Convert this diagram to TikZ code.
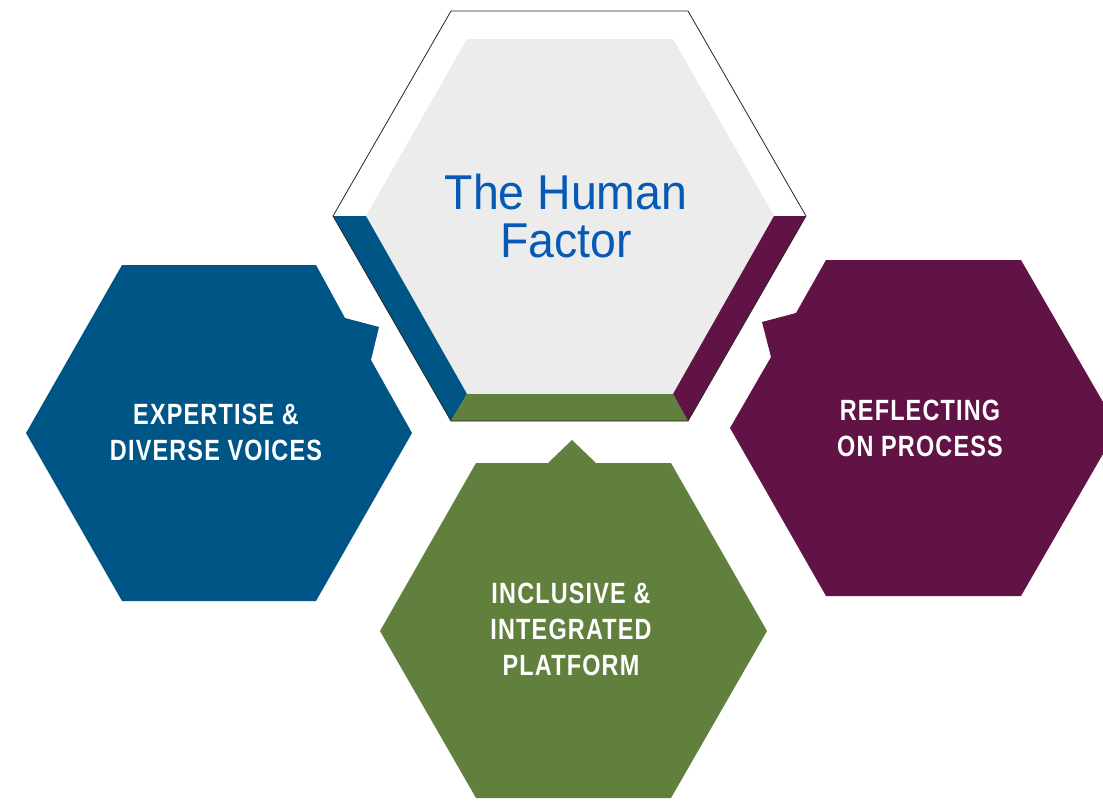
\documentclass[tikz,border=0pt]{standalone}
\usepackage{fontspec}
\setmainfont{Liberation Sans}
\newfontfamily\capfont[LetterSpace=5]{Liberation Sans}
\usepackage{graphicx}
\definecolor{hexblue}{RGB}{0,85,135}
\definecolor{hexpurple}{RGB}{98,19,69}
\definecolor{hexgreen}{RGB}{98,128,61}
\definecolor{hexgray}{RGB}{236,236,236}
\definecolor{titleblue}{RGB}{6,90,182}
\newcommand{\sqz}[1]{\scalebox{0.80}[1]{#1}}
\newcommand{\sqt}[1]{\scalebox{0.95}[1]{#1}}
\begin{document}
\begin{tikzpicture}[x=1pt,y=-1pt,
  hexfill/.style={fill=#1,draw=none},
  caplabel/.style={text=white,font=\capfont\bfseries\fontsize{29.3}{36}\selectfont,align=center,inner sep=0pt},
  titlelabel/.style={text=titleblue,font=\fontsize{48.9}{48}\selectfont,align=center,inner sep=0pt}]
\useasboundingbox (0,0) rectangle (1103,801);
\clip (0,0) rectangle (1103,801);
\fill[white] (0,0) rectangle (1103,801);

% centres
\coordinate (ctop) at (570,216);
\coordinate (cblue) at (219,433);
\coordinate (cgreen) at (574,631);
\coordinate (cpurple) at (924,428);

% top hexagon
\fill[white] (451,11) -- (688,11) -- (806,216) -- (688,421) -- (451,421) -- (333,216) -- cycle;
\fill[hexgray] (467,39) -- (673,39) -- (774,216) -- (673,394) -- (467,394) -- (366,216) -- cycle;
\fill[hexblue] (333,216) -- (366,216) -- (467,394) -- (451,421) -- cycle;
\fill[hexgreen] (467,394) -- (673,394) -- (688,421) -- (451,421) -- cycle;
\fill[hexpurple] (806,216) -- (774,216) -- (673,394) -- (688,421) -- cycle;
\draw[black!85,line width=0.8pt,line join=miter] (451,11) -- (688,11) -- (806,216) -- (688,421) -- (451,421) -- (333,216) -- cycle;

% blue hexagon with tab
\path[hexfill=hexblue] (122,265) -- (316,265) -- (345,318) -- (379,327) -- (371,360) -- (412,433) -- (316,601) -- (122,601) -- (26,433) -- cycle;
% purple hexagon with tab
\path[hexfill=hexpurple] (826,260) -- (1021,260) -- (1118,428) -- (1021,596) -- (826,596) -- (730,428) -- (771,357) -- (762,322) -- (796,313) -- cycle;
% green hexagon with tab
\path[hexfill=hexgreen] (476,463) -- (548,463) -- (572,440) -- (596,463) -- (671,463) -- (767,631) -- (671,798) -- (476,798) -- (380,631) -- cycle;

% labels
\node[titlelabel] (title) at (566,216.5) {\sqt{The Human}\\\sqt{Factor}};
\node[caplabel] (expertise) at (216,432.5) {\sqz{EXPERTISE \&}\\\sqz{DIVERSE VOICES}};
\node[caplabel] (reflecting) at (920,428) {\sqz{REFLECTING}\\\sqz{ON PROCESS}};
\node[caplabel] (inclusive) at (571,629) {\sqz{INCLUSIVE \&}\\\sqz{INTEGRATED}\\\sqz{PLATFORM}};
\end{tikzpicture}
\end{document}
